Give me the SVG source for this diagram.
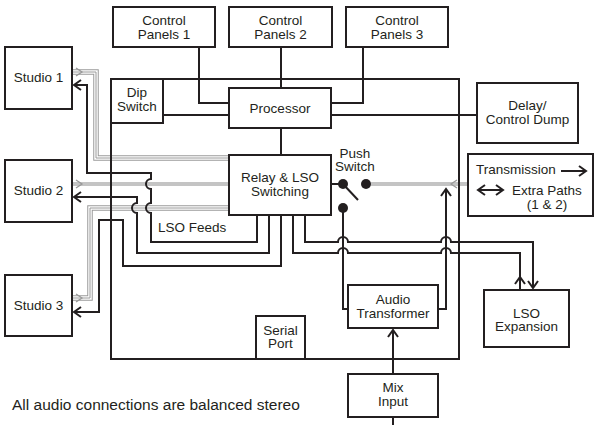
<svg xmlns="http://www.w3.org/2000/svg" width="598" height="425" viewBox="0 0 598 425">
<style>
.box{fill:#fff;stroke:#231f20;stroke-width:2}
.frame{fill:none;stroke:#231f20;stroke-width:2}
.ln{fill:none;stroke:#231f20;stroke-width:2}
.t{font-family:"Liberation Sans",Arial,sans-serif;font-size:13.5px;fill:#231f20;text-anchor:middle}
.note{font-family:"Liberation Sans",Arial,sans-serif;font-size:15.5px;fill:#231f20}
.band{fill:none;stroke:#c4c4c4;stroke-width:4}
.bo{fill:none;stroke:#9a9a9a;stroke-width:5.5}
.bw{fill:none;stroke:#fff;stroke-width:3.5}
.bc{fill:none;stroke:#9a9a9a;stroke-width:1}
.chev{fill:none;stroke:#999;stroke-width:1.3}
.dot{fill:#231f20}
</style>
<defs>
<marker id="ah" viewBox="-9 -6 11 12" refX="0" refY="0" markerWidth="11" markerHeight="12" markerUnits="userSpaceOnUse" orient="auto-start-reverse">
<path d="M-7,-5 L0,0 L-7,5" fill="none" stroke="#231f20" stroke-width="2"/>
</marker>
<path id="bun1" d="M73,72 H96 V158 H229"/>
<path id="bun3" d="M73,298 H90 V208 H229"/>
</defs>

<g id="connectors">
<g id="audio">
<use href="#bun1" class="bo"/><use href="#bun1" class="bw"/><use href="#bun1" class="bc"/>
<use href="#bun3" class="bo"/><use href="#bun3" class="bw"/><use href="#bun3" class="bc"/>
<path class="band" d="M73,184 H229"/>
<path class="band" d="M371,184 H468"/>
<path class="chev" d="M76,68 L82,72 L76,76"/>
<path class="chev" d="M76,180 L82,184 L76,188"/>
<path class="chev" d="M76,294 L82,298 L76,302"/>
<path class="chev" d="M457,180 L451,184 L457,188"/>
</g>
<path class="ln" d="M257,215 V242 H151 V213 A5,5 0 0 1 151,203 V189 A5,5 0 0 1 151,179 V173 H87 V85 H74" marker-end="url(#ah)"/>
<path class="ln" d="M269,215 V253 H137 V213 A5,5 0 0 1 137,203 V197 H74" marker-end="url(#ah)"/>
<path class="ln" d="M281,215 V266 H123 V220 H99 V312 H74" marker-end="url(#ah)"/>
<path class="ln" d="M305,215 V242 H338 A5,5 0 0 1 348,242 H441 A5,5 0 0 1 451,242 H533 V288" marker-end="url(#ah)"/>
<path class="ln" d="M293,215 V253 H338 A5,5 0 0 1 348,253 H441 A5,5 0 0 1 451,253 H520 V290"/>
<path class="ln" d="M520,285 V277" marker-end="url(#ah)"/>
<path class="ln" d="M199,47 V103 H229"/>
<path class="ln" d="M281,47 V88"/>
<path class="ln" d="M363,47 V103 H331"/>
<path class="ln" d="M163,115 H229"/>
<path class="ln" d="M331,115 H477"/>
<path class="ln" d="M281,128 V155"/>
<path class="ln" d="M331,184 H343"/>
<path class="ln" d="M343,184 L358,200"/>
<path class="ln" d="M343,208 V309 H348"/>
<path class="ln" d="M438,309 H446 V189" marker-end="url(#ah)"/>
<path class="ln" d="M393,374 V330" marker-end="url(#ah)"/>
<path class="ln" d="M393,417 V425"/>
<circle class="dot" cx="343" cy="184" r="5"/>
<circle class="dot" cx="366" cy="184" r="5"/>
<circle class="dot" cx="343" cy="208" r="5"/>
</g>

<g id="main-unit"><rect class="frame" x="111" y="79" width="348" height="280"/></g>

<g id="studio1"><rect class="box" x="5" y="47" width="67" height="62"/><text class="t" x="38.5" y="82">Studio 1</text></g>
<g id="studio2"><rect class="box" x="5" y="160" width="67" height="62"/><text class="t" x="38.5" y="195">Studio 2</text></g>
<g id="studio3"><rect class="box" x="5" y="275" width="67" height="61"/><text class="t" x="38.5" y="310">Studio 3</text></g>

<g id="cp1"><rect class="box" x="113" y="7" width="102" height="40"/><text class="t" x="164" y="25">Control</text><text class="t" x="164" y="38.5">Panels 1</text></g>
<g id="cp2"><rect class="box" x="229" y="7" width="103" height="40"/><text class="t" x="280.5" y="25">Control</text><text class="t" x="280.5" y="38.5">Panels 2</text></g>
<g id="cp3"><rect class="box" x="346" y="7" width="102" height="40"/><text class="t" x="397" y="25">Control</text><text class="t" x="397" y="38.5">Panels 3</text></g>

<g id="dip"><rect class="box" x="111" y="79" width="52" height="44"/><text class="t" x="137" y="97">Dip</text><text class="t" x="137" y="110.5">Switch</text></g>
<g id="processor"><rect class="box" x="229" y="88" width="102" height="40"/><text class="t" x="280" y="113">Processor</text></g>
<g id="delay"><rect class="box" x="477" y="83" width="101" height="60"/><text class="t" x="527.5" y="110">Delay/</text><text class="t" x="527.5" y="124">Control Dump</text></g>
<g id="relay"><rect class="box" x="229" y="155" width="102" height="60"/><text class="t" x="280" y="182">Relay &amp; LSO</text><text class="t" x="280" y="195.5">Switching</text></g>
<g id="push"><text class="t" x="355" y="157.5">Push</text><text class="t" x="355" y="171">Switch</text></g>
<g id="transmission"><rect class="box" x="468" y="154" width="125" height="62"/>
<text class="t" x="476" y="174" style="text-anchor:start">Transmission</text>
<path class="ln" d="M561,171 H586" marker-end="url(#ah)"/>
<path class="ln" d="M478,190 H503" marker-start="url(#ah)" marker-end="url(#ah)"/>
<text class="t" x="512" y="195" style="text-anchor:start">Extra Paths</text>
<text class="t" x="547" y="208.5">(1 &amp; 2)</text></g>
<g id="lso-feeds"><text class="t" x="158" y="232" style="text-anchor:start">LSO Feeds</text></g>
<g id="transformer"><rect class="box" x="348" y="285" width="90" height="43"/><text class="t" x="393" y="304">Audio</text><text class="t" x="393" y="317.5">Transformer</text></g>
<g id="serial"><rect class="box" x="256" y="316" width="49" height="43"/><text class="t" x="280.5" y="334.5">Serial</text><text class="t" x="280.5" y="348">Port</text></g>
<g id="lso-exp"><rect class="box" x="484" y="290" width="85" height="57"/><text class="t" x="526.5" y="317.5">LSO</text><text class="t" x="526.5" y="331">Expansion</text></g>
<g id="mix"><rect class="box" x="348" y="374" width="90" height="43"/><text class="t" x="393" y="392">Mix</text><text class="t" x="393" y="405.5">Input</text></g>
<text class="note" x="12" y="410">All audio connections are balanced stereo</text>
</svg>
